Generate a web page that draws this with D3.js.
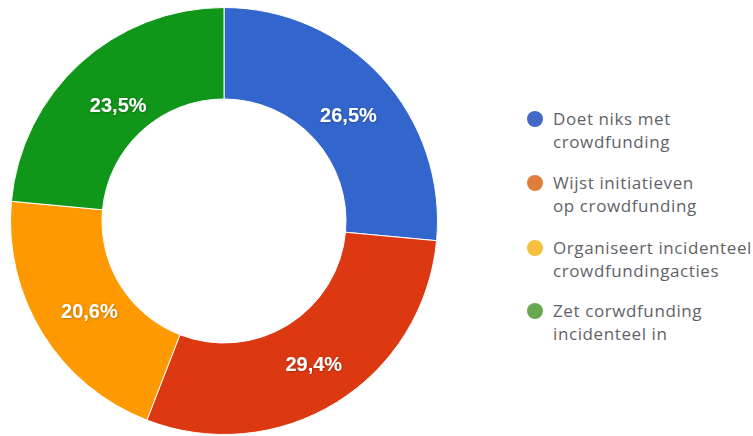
<!DOCTYPE html>
<html>
<head>
<meta charset="utf-8">
<script src="https://cdn.jsdelivr.net/npm/d3@7"></script>
<style>
  body { margin: 0; background: #fff; }
</style>
</head>
<body>
<div id="chart"></div>
<script>
// data: aantal antwoorden per categorie
const categories = [
  ["Doet niks met", "crowdfunding"],
  ["Wijst initiatieven", "op crowdfunding"],
  ["Organiseert incidenteel", "crowdfundingacties"],
  ["Zet corwdfunding", "incidenteel in"]
];
const counts = [9, 10, 7, 8];
const sliceColors = ["#3366cc", "#dc3912", "#ff9900", "#109618"];
const legendColors = ["#4169c8", "#e07f3d", "#f4c03e", "#6aa84f"];

const WIDTH = 753;
const HEIGHT = 436;
const CX = 224, CY = 221;
const R_OUT = 213.5, R_IN = 122;

const svg = d3.select("#chart").append("svg")
  .attr("width", WIDTH)
  .attr("height", HEIGHT);

const defs = svg.append("defs");
const f = defs.append("filter").attr("id", "shadow")
  .attr("x", "-20%").attr("y", "-20%").attr("width", "140%").attr("height", "140%");
f.append("feDropShadow").attr("dx", 0.5).attr("dy", 0.5).attr("stdDeviation", 0.8)
  .attr("flood-color", "#000").attr("flood-opacity", 0.35);

const total = d3.sum(counts);
const pie = d3.pie().sort(null).value(d => d)(counts);
const arc = d3.arc().innerRadius(R_IN).outerRadius(R_OUT);
const labelArc = d3.arc().innerRadius(163).outerRadius(163);

const g = svg.append("g").attr("transform", `translate(${CX},${CY})`);

g.selectAll("path")
  .data(pie)
  .enter()
  .append("path")
  .attr("d", arc)
  .attr("fill", (d, i) => sliceColors[i])
  .attr("stroke", "#fff")
  .attr("stroke-width", 1);

// labels staan iets rechtsonder t.o.v. het zwaartepunt
g.append("g").attr("transform", "translate(4,4)")
  .selectAll("text")
  .data(pie)
  .enter()
  .append("text")
  .attr("transform", d => `translate(${labelArc.centroid(d)})`)
  .attr("text-anchor", "middle")
  .attr("dy", "0.36em")
  .attr("fill", "#fff")
  .attr("font-family", "'Liberation Sans', Arial, sans-serif")
  .attr("font-weight", "bold")
  .attr("font-size", 20)
  .attr("filter", "url(#shadow)")
  .text(d => (d.value / total * 100).toFixed(1).replace(".", ",") + "%");

// legenda
const legendY = [119, 183, 248, 311];
const legend = svg.append("g");
const item = legend.selectAll("g")
  .data(categories)
  .enter()
  .append("g")
  .attr("transform", (d, i) => `translate(535,${legendY[i]})`);

item.append("circle")
  .attr("r", 8)
  .attr("fill", (d, i) => legendColors[i]);

item.append("text")
  .attr("x", 18)
  .attr("y", 6)
  .attr("fill", "#5f6368")
  .attr("font-family", "'Open Sans', sans-serif")
  .attr("font-size", 17)
  .attr("letter-spacing", 0.6)
  .selectAll("tspan")
  .data(d => d)
  .enter()
  .append("tspan")
  .attr("x", 18)
  .attr("dy", (d, i) => i === 0 ? 0 : 23)
  .text(d => d);
</script>
</body>
</html>
